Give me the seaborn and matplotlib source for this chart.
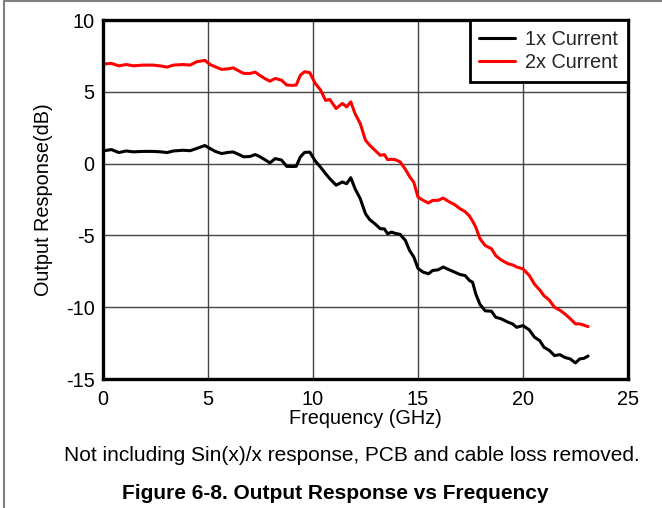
import seaborn as sns
import pandas as pd
import matplotlib.pyplot as plt
from matplotlib.lines import Line2D

# frequency in GHz, response in dB
freq = [0.0, 0.4, 0.75, 1.1, 1.45, 1.9, 2.4, 2.75, 3.05, 3.35, 3.8, 4.15, 4.45, 4.85,
        5.1, 5.35, 5.65, 5.95, 6.2, 6.45, 6.7, 7.0, 7.25, 7.45, 7.7, 7.95, 8.2, 8.5,
        8.75, 9.0, 9.2, 9.4, 9.6, 9.85, 10.1, 10.35, 10.6, 10.8, 11.1, 11.4, 11.6, 11.8,
        12.0, 12.25, 12.5, 12.7, 12.95, 13.2, 13.4, 13.55, 13.75, 13.9, 14.15, 14.4,
        14.6, 14.8, 15.0, 15.25, 15.5, 15.7, 15.95, 16.2, 16.5, 16.75, 17.0, 17.25,
        17.45, 17.6, 17.75, 17.95, 18.2, 18.5, 18.7, 18.95, 19.3, 19.5, 19.7, 20.0,
        20.3, 20.55, 20.8, 21.0, 21.25, 21.5, 21.75, 22.0, 22.25, 22.5, 22.7, 22.9, 23.1]
resp_1x = [0.88, 0.98, 0.77, 0.88, 0.82, 0.85, 0.85, 0.82, 0.77, 0.88, 0.93, 0.9, 1.05, 1.26,
           1.05, 0.85, 0.7, 0.78, 0.81, 0.65, 0.47, 0.5, 0.63, 0.5, 0.28, 0.05, 0.35, 0.25,
           -0.19, -0.2, -0.19, 0.47, 0.78, 0.8, 0.2, -0.23, -0.7, -1.05, -1.5, -1.28, -1.4, -0.98,
           -1.74, -2.44, -3.49, -3.9, -4.19, -4.53, -4.55, -4.88, -4.77, -4.85, -4.93, -5.35,
           -6.05, -6.5, -7.3, -7.56, -7.67, -7.44, -7.4, -7.2, -7.4, -7.56, -7.72, -7.8,
           -8.14, -8.26, -9.07, -9.8, -10.25, -10.28, -10.7, -10.8, -11.05, -11.16, -11.4, -11.28,
           -11.58, -12.09, -12.33, -12.79, -13.0, -13.37, -13.3, -13.5, -13.6, -13.88, -13.6, -13.56, -13.4]
resp_2x = [6.93, 6.98, 6.81, 6.9, 6.81, 6.86, 6.86, 6.8, 6.72, 6.86, 6.9, 6.86, 7.09, 7.19,
           6.9, 6.74, 6.56, 6.6, 6.67, 6.47, 6.28, 6.28, 6.37, 6.16, 5.93, 5.74, 5.93, 5.81,
           5.47, 5.45, 5.47, 6.16, 6.4, 6.33, 5.6, 5.15, 4.4, 4.47, 3.84, 4.19, 3.95, 4.3,
           3.49, 2.79, 1.63, 1.28, 0.93, 0.58, 0.63, 0.28, 0.3, 0.28, 0.12, -0.4,
           -0.9, -1.3, -2.33, -2.56, -2.74, -2.56, -2.56, -2.4, -2.67, -2.86, -3.14, -3.35,
           -3.65, -4.0, -4.42, -5.23, -5.7, -5.93, -6.4, -6.7, -6.98, -7.05, -7.2, -7.33,
           -7.79, -8.4, -8.8, -9.2, -9.5, -10.0, -10.2, -10.47, -10.8, -11.16, -11.16, -11.25, -11.35]
series = ['1x Current', '2x Current']

df = pd.concat([
    pd.DataFrame({'freq': freq, 'resp': resp_1x, 'series': series[0]}),
    pd.DataFrame({'freq': freq, 'resp': resp_2x, 'series': series[1]}),
])

sns.set_theme(style="white")
plt.rcParams['font.family'] = ['Liberation Sans', 'DejaVu Sans']
plt.rcParams['axes.unicode_minus'] = False

fs = 14.3
fig = plt.figure(figsize=(6.62, 5.08), dpi=100)
ax = fig.add_axes([0.1556, 0.2539, 0.7930, 0.7067])

sns.lineplot(data=df, x='freq', y='resp', hue='series', palette=['black', 'red'],
             linewidth=2.2, ax=ax, sort=False)

ax.set_xlim(0, 25)
ax.set_ylim(-15, 10)
ax.set_xticks(range(0, 26, 5))
ax.set_yticks(range(-15, 11, 5))
ax.grid(True, color='#444444', linewidth=1)
ax.set_axisbelow(True)
for s in ax.spines.values():
    s.set_color('black')
    s.set_linewidth(2.4)
ax.tick_params(length=0, labelsize=fs, colors='black')
ax.tick_params(axis='x', pad=8)
ax.tick_params(axis='y', pad=6)
ax.set_xlabel('Frequency (GHz)', fontsize=fs, color='black', labelpad=0)
ax.set_ylabel('Output Response(dB)', fontsize=fs, color='black', labelpad=9)

leg = ax.legend(loc='upper right', fontsize=fs, frameon=True, fancybox=False,
                borderaxespad=0, handlelength=1.8, borderpad=0.5, labelspacing=0.2,
                handletextpad=0.5)
leg.get_frame().set_edgecolor('black')
leg.get_frame().set_linewidth(2)
leg.get_frame().set_alpha(1)
for line in leg.get_lines():
    line.set_linewidth(2.2)

fig.text(0.532, 0.104, 'Not including Sin(x)/x response, PCB and cable loss removed.',
         ha='center', va='center', fontsize=15, color='black')
fig.text(0.506, 0.029, 'Figure 6-8. Output Response vs Frequency',
         ha='center', va='center', fontsize=15, fontweight='bold', color='black')

# page border (top and left)
fig.add_artist(Line2D([0.006, 1.0], [0.998, 0.998], color='#808080', linewidth=1.5))
fig.add_artist(Line2D([0.006, 0.006], [0.0, 0.998], color='#808080', linewidth=1.5))

fig.savefig('out.png', dpi=100)
